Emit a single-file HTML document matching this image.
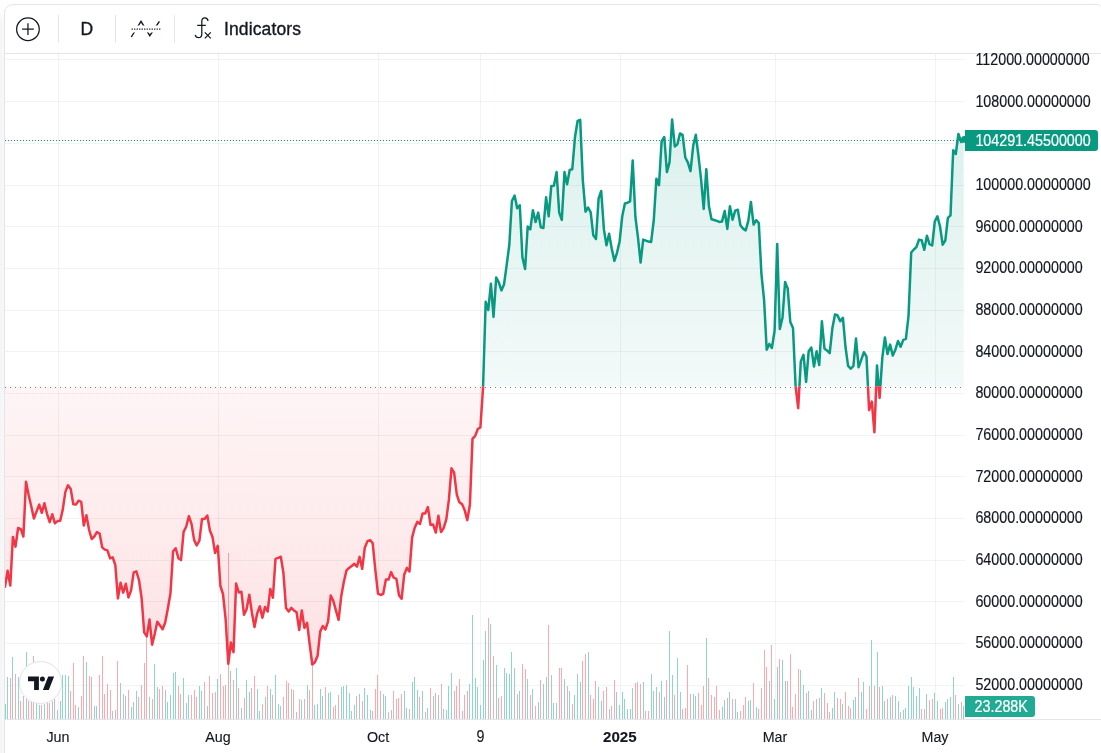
<!DOCTYPE html>
<html lang="en"><head><meta charset="utf-8"><title>Chart</title>
<style>
html,body{margin:0;padding:0;background:#fff;}
body{width:1101px;height:753px;overflow:hidden;position:relative;font-family:"Liberation Sans",Arial,sans-serif;color:#131722;}
.frame{position:absolute;left:4px;top:4px;width:1101px;height:800px;border:1px solid #e2e5ec;border-radius:9px;box-sizing:border-box;background:#fff;}
.lstrip{position:absolute;left:0;top:0;width:6px;height:753px;background:linear-gradient(to bottom,#fff 0,#fff 6px,rgba(255,255,255,0) 24px),linear-gradient(to right,#f5f5f6,#fafafa);}
.tbline{position:absolute;left:5px;top:53px;width:1100px;height:1px;background:#e2e5ec;}
.axline{position:absolute;left:5px;top:719px;width:1100px;height:1px;background:#e2e5ec;}
.sep{position:absolute;top:15px;width:1px;height:28px;background:#e2e5ec;}
.chart{position:absolute;left:0;top:0;}
.tb{position:absolute;left:0;top:0;}
.tbt{position:absolute;font-size:17.5px;line-height:20px;top:19px;white-space:nowrap;-webkit-text-stroke:0.35px #131722;letter-spacing:0.12px;}
.pl{position:absolute;left:975.4px;font-size:14.3px;-webkit-text-stroke:0.15px #131722;transform:scaleY(1.11);transform-origin:0 14.97px;line-height:20px;height:20px;white-space:nowrap;}
.tl{position:absolute;top:726.85px;width:60px;text-align:center;font-size:14.3px;-webkit-text-stroke:0.12px #131722;transform:scaleY(1.025);transform-origin:0 14.97px;line-height:20px;white-space:nowrap;}
.tag{position:absolute;left:965px;box-sizing:border-box;color:#fff;line-height:22px;height:21px;padding-left:10.4px;border-radius:0 3px 3px 0;white-space:nowrap;}
.t9{transform:scaleY(1.11);}
.tb2{font-weight:bold;font-size:15.1px;transform:none;top:727.2px;}
.tx{display:inline-block;font-size:14.3px;line-height:22px;-webkit-text-stroke:0.2px #fff;transform:scaleY(1.11);transform-origin:0 15.97px;}
.logo{position:absolute;left:19.4px;top:661.3px;width:42.7px;height:42.7px;border-radius:50%;background:#fff;border:1.6px solid #dfe2ea;box-sizing:border-box;}
</style></head><body>
<div class="lstrip"></div><div class="frame"></div>
<svg class="chart" width="1101" height="753" viewBox="0 0 1101 753">
<defs>
<linearGradient id="gt" gradientUnits="userSpaceOnUse" x1="0" y1="-278.8" x2="0" y2="386.2"><stop offset="0" stop-color="#089981" stop-opacity="0.28"/><stop offset="1" stop-color="#089981" stop-opacity="0.05"/></linearGradient>
<linearGradient id="gb" gradientUnits="userSpaceOnUse" x1="0" y1="386.2" x2="0" y2="1051.2"><stop offset="0" stop-color="#f23645" stop-opacity="0.05"/><stop offset="1" stop-color="#f23645" stop-opacity="0.28"/></linearGradient>
<clipPath id="ct"><rect x="5" y="54" width="960" height="332.2"/></clipPath>
<clipPath id="cb"><rect x="5" y="386.2" width="960" height="332.8"/></clipPath>
</defs>
<g fill="#2a2e39" fill-opacity="0.06" shape-rendering="crispEdges"><rect x="5" y="59" width="960" height="1"/><rect x="5" y="101" width="960" height="1"/><rect x="5" y="143" width="960" height="1"/><rect x="5" y="185" width="960" height="1"/><rect x="5" y="226" width="960" height="1"/><rect x="5" y="268" width="960" height="1"/><rect x="5" y="310" width="960" height="1"/><rect x="5" y="351" width="960" height="1"/><rect x="5" y="393" width="960" height="1"/><rect x="5" y="435" width="960" height="1"/><rect x="5" y="476" width="960" height="1"/><rect x="5" y="518" width="960" height="1"/><rect x="5" y="560" width="960" height="1"/><rect x="5" y="601" width="960" height="1"/><rect x="5" y="643" width="960" height="1"/><rect x="5" y="685" width="960" height="1"/><rect x="58" y="54" width="1" height="665"/><rect x="218" y="54" width="1" height="665"/><rect x="378" y="54" width="1" height="665"/><rect x="480" y="54" width="1" height="665"/><rect x="620" y="54" width="1" height="665"/><rect x="775" y="54" width="1" height="665"/><rect x="935" y="54" width="1" height="665"/></g>
<g shape-rendering="crispEdges"><path d="M5 719v-15h1v15zM7 719v-42h1v42zM12 719v-62h1v62zM18 719v-42h1v42zM26 719v-67h1v67zM36 719v-20h1v20zM39 719v-14h1v14zM44 719v-15h1v15zM52 719v-18h1v18zM57 719v-9h1v9zM60 719v-18h1v18zM62 719v-44h1v44zM65 719v-44h1v44zM68 719v-43h1v43zM78 719v-12h1v12zM86 719v-57h1v57zM94 719v-13h1v13zM96 719v-13h1v13zM112 719v-8h1v8zM120 719v-36h1v36zM125 719v-23h1v23zM131 719v-12h1v12zM133 719v-17h1v17zM136 719v-28h1v28zM149 719v-22h1v22zM154 719v-55h1v55zM157 719v-32h1v32zM165 719v-29h1v29zM167 719v-17h1v17zM170 719v-24h1v24zM173 719v-46h1v46zM175 719v-47h1v47zM183 719v-41h1v41zM186 719v-16h1v16zM188 719v-24h1v24zM199 719v-33h1v33zM201 719v-28h1v28zM207 719v-13h1v13zM217 719v-40h1v40zM230 719v-48h1v48zM236 719v-51h1v51zM241 719v-11h1v11zM246 719v-39h1v39zM249 719v-27h1v27zM257 719v-30h1v30zM259 719v-8h1v8zM265 719v-22h1v22zM270 719v-30h1v30zM275 719v-44h1v44zM278 719v-15h1v15zM280 719v-13h1v13zM291 719v-30h1v30zM301 719v-19h1v19zM307 719v-34h1v34zM314 719v-14h1v14zM317 719v-15h1v15zM320 719v-30h1v30zM322 719v-23h1v23zM328 719v-26h1v26zM330 719v-27h1v27zM341 719v-32h1v32zM343 719v-33h1v33zM346 719v-34h1v34zM349 719v-26h1v26zM351 719v-8h1v8zM354 719v-14h1v14zM359 719v-25h1v25zM364 719v-31h1v31zM367 719v-24h1v24zM370 719v-9h1v9zM383 719v-25h1v25zM385 719v-23h1v23zM391 719v-9h1v9zM404 719v-28h1v28zM406 719v-11h1v11zM412 719v-37h1v37zM414 719v-42h1v42zM417 719v-29h1v29zM422 719v-28h1v28zM427 719v-11h1v11zM433 719v-23h1v23zM438 719v-24h1v24zM443 719v-10h1v10zM446 719v-9h1v9zM448 719v-33h1v33zM451 719v-46h1v46zM469 719v-35h1v35zM472 719v-104h1v104zM475 719v-41h1v41zM477 719v-32h1v32zM480 719v-14h1v14zM483 719v-59h1v59zM485 719v-88h1v88zM490 719v-95h1v95zM496 719v-54h1v54zM504 719v-51h1v51zM506 719v-46h1v46zM509 719v-45h1v45zM511 719v-67h1v67zM514 719v-51h1v51zM519 719v-28h1v28zM527 719v-40h1v40zM532 719v-30h1v30zM538 719v-17h1v17zM543 719v-35h1v35zM546 719v-42h1v42zM551 719v-44h1v44zM553 719v-16h1v16zM556 719v-16h1v16zM564 719v-40h1v40zM569 719v-28h1v28zM574 719v-24h1v24zM577 719v-45h1v45zM580 719v-37h1v37zM588 719v-67h1v67zM598 719v-32h1v32zM601 719v-18h1v18zM609 719v-10h1v10zM616 719v-27h1v27zM619 719v-14h1v14zM622 719v-27h1v27zM624 719v-20h1v20zM627 719v-10h1v10zM630 719v-10h1v10zM632 719v-31h1v31zM643 719v-37h1v37zM651 719v-45h1v45zM653 719v-28h1v28zM656 719v-32h1v32zM661 719v-38h1v38zM664 719v-22h1v22zM669 719v-88h1v88zM672 719v-44h1v44zM677 719v-61h1v61zM680 719v-27h1v27zM693 719v-25h1v25zM695 719v-23h1v23zM706 719v-81h1v81zM722 719v-12h1v12zM724 719v-19h1v19zM729 719v-27h1v27zM735 719v-20h1v20zM737 719v-7h1v7zM748 719v-18h1v18zM750 719v-19h1v19zM756 719v-12h1v12zM769 719v-38h1v38zM774 719v-20h1v20zM777 719v-52h1v52zM782 719v-59h1v59zM785 719v-38h1v38zM800 719v-49h1v49zM803 719v-34h1v34zM808 719v-28h1v28zM811 719v-9h1v9zM816 719v-20h1v20zM821 719v-31h1v31zM832 719v-11h1v11zM834 719v-27h1v27zM842 719v-15h1v15zM853 719v-19h1v19zM855 719v-22h1v22zM861 719v-27h1v27zM863 719v-37h1v37zM871 719v-79h1v79zM877 719v-67h1v67zM882 719v-33h1v33zM884 719v-18h1v18zM890 719v-22h1v22zM895 719v-23h1v23zM898 719v-18h1v18zM903 719v-9h1v9zM905 719v-11h1v11zM908 719v-33h1v33zM911 719v-42h1v42zM913 719v-32h1v32zM916 719v-23h1v23zM919 719v-31h1v31zM926 719v-25h1v25zM934 719v-26h1v26zM937 719v-18h1v18zM945 719v-17h1v17zM947 719v-20h1v20zM950 719v-22h1v22zM953 719v-42h1v42zM958 719v-15h1v15zM963 719v-13h1v13z" fill="#90d5c9"/><path d="M10 719v-41h1v41zM15 719v-45h1v45zM20 719v-18h1v18zM23 719v-23h1v23zM28 719v-18h1v18zM31 719v-20h1v20zM33 719v-63h1v63zM41 719v-14h1v14zM47 719v-18h1v18zM49 719v-16h1v16zM54 719v-20h1v20zM70 719v-28h1v28zM73 719v-56h1v56zM75 719v-14h1v14zM81 719v-23h1v23zM83 719v-63h1v63zM89 719v-43h1v43zM91 719v-42h1v42zM99 719v-44h1v44zM102 719v-63h1v63zM104 719v-25h1v25zM107 719v-35h1v35zM110 719v-29h1v29zM115 719v-9h1v9zM117 719v-58h1v58zM123 719v-25h1v25zM128 719v-29h1v29zM138 719v-22h1v22zM141 719v-34h1v34zM144 719v-56h1v56zM146 719v-84h1v84zM152 719v-20h1v20zM159 719v-30h1v30zM162 719v-33h1v33zM178 719v-33h1v33zM180 719v-25h1v25zM191 719v-24h1v24zM194 719v-29h1v29zM196 719v-22h1v22zM204 719v-37h1v37zM209 719v-43h1v43zM212 719v-26h1v26zM215 719v-27h1v27zM220 719v-45h1v45zM223 719v-33h1v33zM225 719v-34h1v34zM228 719v-166h1v166zM233 719v-39h1v39zM238 719v-31h1v31zM244 719v-21h1v21zM251 719v-31h1v31zM254 719v-43h1v43zM262 719v-15h1v15zM267 719v-33h1v33zM272 719v-24h1v24zM283 719v-22h1v22zM286 719v-38h1v38zM288 719v-36h1v36zM293 719v-29h1v29zM296 719v-7h1v7zM299 719v-20h1v20zM304 719v-20h1v20zM309 719v-29h1v29zM312 719v-53h1v53zM325 719v-32h1v32zM333 719v-12h1v12zM335 719v-14h1v14zM338 719v-24h1v24zM356 719v-23h1v23zM362 719v-18h1v18zM372 719v-8h1v8zM375 719v-30h1v30zM377 719v-44h1v44zM380 719v-28h1v28zM388 719v-7h1v7zM393 719v-28h1v28zM396 719v-20h1v20zM398 719v-21h1v21zM401 719v-25h1v25zM409 719v-10h1v10zM419 719v-22h1v22zM425 719v-7h1v7zM430 719v-31h1v31zM435 719v-26h1v26zM441 719v-35h1v35zM454 719v-28h1v28zM456 719v-33h1v33zM459 719v-40h1v40zM462 719v-8h1v8zM464 719v-24h1v24zM467 719v-28h1v28zM488 719v-101h1v101zM493 719v-63h1v63zM498 719v-21h1v21zM501 719v-23h1v23zM517 719v-25h1v25zM522 719v-55h1v55zM525 719v-50h1v50zM530 719v-24h1v24zM535 719v-13h1v13zM540 719v-39h1v39zM548 719v-94h1v94zM559 719v-51h1v51zM561 719v-51h1v51zM567 719v-33h1v33zM572 719v-15h1v15zM582 719v-58h1v58zM585 719v-65h1v65zM590 719v-24h1v24zM593 719v-20h1v20zM595 719v-38h1v38zM603 719v-28h1v28zM606 719v-32h1v32zM611 719v-13h1v13zM614 719v-39h1v39zM635 719v-36h1v36zM637 719v-37h1v37zM640 719v-35h1v35zM645 719v-8h1v8zM648 719v-8h1v8zM659 719v-27h1v27zM666 719v-39h1v39zM674 719v-24h1v24zM682 719v-10h1v10zM685 719v-11h1v11zM687 719v-54h1v54zM690 719v-25h1v25zM698 719v-26h1v26zM701 719v-14h1v14zM703 719v-33h1v33zM708 719v-41h1v41zM711 719v-24h1v24zM714 719v-22h1v22zM716 719v-33h1v33zM719 719v-9h1v9zM727 719v-21h1v21zM732 719v-20h1v20zM740 719v-8h1v8zM743 719v-14h1v14zM745 719v-22h1v22zM753 719v-36h1v36zM758 719v-10h1v10zM761 719v-31h1v31zM764 719v-69h1v69zM766 719v-52h1v52zM771 719v-74h1v74zM779 719v-60h1v60zM787 719v-38h1v38zM790 719v-65h1v65zM792 719v-12h1v12zM795 719v-25h1v25zM798 719v-50h1v50zM806 719v-26h1v26zM813 719v-18h1v18zM819 719v-21h1v21zM824 719v-26h1v26zM827 719v-16h1v16zM829 719v-7h1v7zM837 719v-21h1v21zM840 719v-20h1v20zM845 719v-27h1v27zM848 719v-13h1v13zM850 719v-11h1v11zM858 719v-41h1v41zM866 719v-10h1v10zM869 719v-33h1v33zM874 719v-33h1v33zM879 719v-32h1v32zM887 719v-20h1v20zM892 719v-24h1v24zM900 719v-7h1v7zM921 719v-10h1v10zM924 719v-10h1v10zM929 719v-19h1v19zM932 719v-20h1v20zM940 719v-10h1v10zM942 719v-11h1v11zM955 719v-24h1v24zM961 719v-17h1v17z" fill="#fba8af"/></g>
<path d="M5 586.7 L7.6 570.7 L10.3 585.6 L12.9 536.9 L15.5 546.7 L18.1 528 L20.8 529.2 L23.4 536.5 L26 481.7 L28.6 494.8 L31.3 506.5 L33.9 518.6 L36.5 511.6 L39.2 504.6 L41.8 512.8 L44.4 503.3 L47 513.8 L49.7 522.2 L52.3 514.3 L54.9 523.3 L57.5 521.1 L60.2 520.8 L62.8 509.4 L65.4 491.9 L68 485.3 L70.7 489 L73.3 504.3 L75.9 504.6 L78.6 500.7 L81.2 501.8 L83.8 525.5 L86.4 515.3 L89.1 530 L91.7 539 L94.3 536.5 L96.9 532.1 L99.6 533.6 L102.2 547.4 L104.8 549.6 L107.4 550.4 L110.1 558.4 L112.7 557.4 L115.3 565 L117.9 598.4 L120.6 582.8 L123.2 592.6 L125.8 583.8 L128.5 597.4 L131.1 590.4 L133.7 572.4 L136.3 571.3 L139 580 L141.6 598 L144.2 632.4 L146.8 636.4 L149.5 619.6 L152.1 644.7 L154.7 634 L157.3 621.7 L160 625.4 L162.6 629.3 L165.2 622.5 L167.9 608.3 L170.5 593 L173.1 551.3 L175.7 548.3 L178.4 558.2 L181 560.1 L183.6 531.9 L186.2 526.8 L188.9 516.1 L191.5 523.9 L194.1 539.9 L196.7 545.5 L199.4 540.7 L202 519.1 L204.6 519.1 L207.3 515.6 L209.9 530.5 L212.5 537 L215.1 553.1 L217.8 545.8 L220.4 586 L223 594 L225.6 618.8 L228.3 663.8 L230.9 642.5 L233.5 652.1 L236.1 583.5 L238.8 592.5 L241.4 591.7 L244 614.8 L246.6 609.3 L249.3 594.7 L251.9 612.7 L254.5 626.9 L257.2 613.5 L259.8 606.4 L262.4 617.8 L265 607 L267.7 611.5 L270.3 589 L272.9 597.6 L275.5 558.9 L278.2 557.9 L280.8 556.7 L283.4 572.8 L286 607.9 L288.7 611.5 L291.3 607.9 L293.9 610.4 L296.6 612.3 L299.2 630.1 L301.8 610.4 L304.4 627.9 L307.1 622.8 L309.7 644.7 L312.3 664.5 L314.9 662.3 L317.6 655.7 L320.2 631.6 L322.8 626 L325.4 629.4 L328.1 621.4 L330.7 595.5 L333.3 600.9 L335.9 610.4 L338.6 619.9 L341.2 596.5 L343.8 582 L346.5 570.4 L349.1 567.9 L351.7 566 L354.3 563.8 L357 566.7 L359.6 556.9 L362.2 568.9 L364.8 547.7 L367.5 541.1 L370.1 540.1 L372.7 543.3 L375.3 569.6 L378 593.7 L380.6 595 L383.2 593.8 L385.9 579.6 L388.5 579.6 L391.1 572.1 L393.7 577.7 L396.4 578.9 L399 595.2 L401.6 598.8 L404.2 574.7 L406.9 567.9 L409.5 571.5 L412.1 537.6 L414.7 527.7 L417.4 521.9 L420 523.9 L422.6 513.5 L425.2 513.4 L427.9 507.1 L430.5 524.9 L433.1 524.5 L435.8 532.5 L438.4 515.7 L441 532.1 L443.6 528.2 L446.3 519.4 L448.9 499.7 L451.5 468.3 L454.1 472.6 L456.8 494.6 L459.4 502.3 L462 504.1 L464.6 509.9 L467.3 520.1 L469.9 504.8 L472.5 438.9 L475.2 435.9 L477.8 429 L480.4 427.4 L483 388.5 L485.7 301.8 L488.3 310 L490.9 283.7 L493.5 316.9 L496.2 277.6 L498.8 282.3 L501.4 290.4 L504 284.5 L506.7 264.8 L509.3 245 L511.9 201 L514.6 195.6 L517.2 208.3 L519.8 205.3 L522.4 257.2 L525.1 269 L527.7 226.5 L530.3 229.4 L532.9 210.2 L535.6 222.1 L538.2 212.6 L540.8 227.3 L543.4 228 L546.1 197.3 L548.7 216.3 L551.3 186 L553.9 185.7 L556.6 172.1 L559.2 212.6 L561.8 219.9 L564.5 172.1 L567.1 184.2 L569.7 169.9 L572.3 169.2 L575 137 L577.6 121 L580.2 119.9 L582.8 180.1 L585.5 211.7 L588.1 207.5 L590.7 212.4 L593.3 235.3 L596 238.9 L598.6 198.6 L601.2 191 L603.9 229.4 L606.5 245.2 L609.1 233.8 L611.7 248.4 L614.4 260.9 L617 252.8 L619.6 241.5 L622.2 216.5 L624.9 203.5 L627.5 202.7 L630.1 201.4 L632.7 160.4 L635.4 217 L638 237.7 L640.6 262.5 L643.2 239.6 L645.9 240.6 L648.5 241.6 L651.1 242.1 L653.8 220 L656.4 178.7 L659 185.2 L661.6 141.4 L664.3 137 L666.9 172.1 L669.5 162.6 L672.1 119.5 L674.8 146.5 L677.4 144.3 L680 133.4 L682.6 134.8 L685.3 157.5 L687.9 162.6 L690.5 171.1 L693.2 145.8 L695.8 134.8 L698.4 155.3 L701 178.7 L703.7 209 L706.3 169.2 L708.9 206 L711.5 219.2 L714.2 220 L716.8 220.9 L719.4 221.9 L722 221.6 L724.7 211 L727.3 228.9 L729.9 206.3 L732.6 219.7 L735.2 210.7 L737.8 209.7 L740.4 225.3 L743.1 228.6 L745.7 230.4 L748.3 220.9 L750.9 201.9 L753.6 224.6 L756.2 220.2 L758.8 223.1 L761.4 273.6 L764.1 300.1 L766.7 349.7 L769.3 343.9 L771.9 348 L774.6 330.7 L777.2 243.9 L779.8 329 L782.5 317.7 L785.1 281.9 L787.7 288.4 L790.3 322 L793 327.9 L795.6 386.2 L798.2 408.2 L800.8 361.4 L803.5 354.8 L806.1 381.9 L808.7 351.2 L811.3 347.5 L814 366.5 L816.6 351.2 L819.2 365.1 L821.9 321.3 L824.5 348.7 L827.1 350.5 L829.7 353.1 L832.4 327.9 L835 314.4 L837.6 315.5 L840.2 321.3 L842.9 317.7 L845.5 347 L848.1 365.8 L850.7 368.7 L853.4 366.2 L856 338.5 L858.6 367.3 L861.2 359.9 L863.9 352.2 L866.5 356.7 L869.1 410.1 L871.8 401.6 L874.4 432.3 L877 365.5 L879.6 397.9 L882.3 357.8 L884.9 337.5 L887.5 354.1 L890.1 344.6 L892.8 355.6 L895.4 349.7 L898 341 L900.6 346.8 L903.3 339.9 L905.9 338.8 L908.5 316.2 L911.2 252.5 L913.8 249.5 L916.4 247.1 L919 239.6 L921.7 240.3 L924.3 249.8 L926.9 235.7 L929.5 244.1 L932.2 245.5 L934.8 221.4 L937.4 216.4 L940 226.2 L942.7 244.7 L945.3 240.5 L947.9 217.8 L950.5 215.4 L953.2 150.3 L955.8 154 L958.4 133.9 L961.1 141.9 L963.7 139.9 L963.7 386.2 L5 386.2 Z" fill="url(#gt)" clip-path="url(#ct)"/>
<path d="M5 586.7 L7.6 570.7 L10.3 585.6 L12.9 536.9 L15.5 546.7 L18.1 528 L20.8 529.2 L23.4 536.5 L26 481.7 L28.6 494.8 L31.3 506.5 L33.9 518.6 L36.5 511.6 L39.2 504.6 L41.8 512.8 L44.4 503.3 L47 513.8 L49.7 522.2 L52.3 514.3 L54.9 523.3 L57.5 521.1 L60.2 520.8 L62.8 509.4 L65.4 491.9 L68 485.3 L70.7 489 L73.3 504.3 L75.9 504.6 L78.6 500.7 L81.2 501.8 L83.8 525.5 L86.4 515.3 L89.1 530 L91.7 539 L94.3 536.5 L96.9 532.1 L99.6 533.6 L102.2 547.4 L104.8 549.6 L107.4 550.4 L110.1 558.4 L112.7 557.4 L115.3 565 L117.9 598.4 L120.6 582.8 L123.2 592.6 L125.8 583.8 L128.5 597.4 L131.1 590.4 L133.7 572.4 L136.3 571.3 L139 580 L141.6 598 L144.2 632.4 L146.8 636.4 L149.5 619.6 L152.1 644.7 L154.7 634 L157.3 621.7 L160 625.4 L162.6 629.3 L165.2 622.5 L167.9 608.3 L170.5 593 L173.1 551.3 L175.7 548.3 L178.4 558.2 L181 560.1 L183.6 531.9 L186.2 526.8 L188.9 516.1 L191.5 523.9 L194.1 539.9 L196.7 545.5 L199.4 540.7 L202 519.1 L204.6 519.1 L207.3 515.6 L209.9 530.5 L212.5 537 L215.1 553.1 L217.8 545.8 L220.4 586 L223 594 L225.6 618.8 L228.3 663.8 L230.9 642.5 L233.5 652.1 L236.1 583.5 L238.8 592.5 L241.4 591.7 L244 614.8 L246.6 609.3 L249.3 594.7 L251.9 612.7 L254.5 626.9 L257.2 613.5 L259.8 606.4 L262.4 617.8 L265 607 L267.7 611.5 L270.3 589 L272.9 597.6 L275.5 558.9 L278.2 557.9 L280.8 556.7 L283.4 572.8 L286 607.9 L288.7 611.5 L291.3 607.9 L293.9 610.4 L296.6 612.3 L299.2 630.1 L301.8 610.4 L304.4 627.9 L307.1 622.8 L309.7 644.7 L312.3 664.5 L314.9 662.3 L317.6 655.7 L320.2 631.6 L322.8 626 L325.4 629.4 L328.1 621.4 L330.7 595.5 L333.3 600.9 L335.9 610.4 L338.6 619.9 L341.2 596.5 L343.8 582 L346.5 570.4 L349.1 567.9 L351.7 566 L354.3 563.8 L357 566.7 L359.6 556.9 L362.2 568.9 L364.8 547.7 L367.5 541.1 L370.1 540.1 L372.7 543.3 L375.3 569.6 L378 593.7 L380.6 595 L383.2 593.8 L385.9 579.6 L388.5 579.6 L391.1 572.1 L393.7 577.7 L396.4 578.9 L399 595.2 L401.6 598.8 L404.2 574.7 L406.9 567.9 L409.5 571.5 L412.1 537.6 L414.7 527.7 L417.4 521.9 L420 523.9 L422.6 513.5 L425.2 513.4 L427.9 507.1 L430.5 524.9 L433.1 524.5 L435.8 532.5 L438.4 515.7 L441 532.1 L443.6 528.2 L446.3 519.4 L448.9 499.7 L451.5 468.3 L454.1 472.6 L456.8 494.6 L459.4 502.3 L462 504.1 L464.6 509.9 L467.3 520.1 L469.9 504.8 L472.5 438.9 L475.2 435.9 L477.8 429 L480.4 427.4 L483 388.5 L485.7 301.8 L488.3 310 L490.9 283.7 L493.5 316.9 L496.2 277.6 L498.8 282.3 L501.4 290.4 L504 284.5 L506.7 264.8 L509.3 245 L511.9 201 L514.6 195.6 L517.2 208.3 L519.8 205.3 L522.4 257.2 L525.1 269 L527.7 226.5 L530.3 229.4 L532.9 210.2 L535.6 222.1 L538.2 212.6 L540.8 227.3 L543.4 228 L546.1 197.3 L548.7 216.3 L551.3 186 L553.9 185.7 L556.6 172.1 L559.2 212.6 L561.8 219.9 L564.5 172.1 L567.1 184.2 L569.7 169.9 L572.3 169.2 L575 137 L577.6 121 L580.2 119.9 L582.8 180.1 L585.5 211.7 L588.1 207.5 L590.7 212.4 L593.3 235.3 L596 238.9 L598.6 198.6 L601.2 191 L603.9 229.4 L606.5 245.2 L609.1 233.8 L611.7 248.4 L614.4 260.9 L617 252.8 L619.6 241.5 L622.2 216.5 L624.9 203.5 L627.5 202.7 L630.1 201.4 L632.7 160.4 L635.4 217 L638 237.7 L640.6 262.5 L643.2 239.6 L645.9 240.6 L648.5 241.6 L651.1 242.1 L653.8 220 L656.4 178.7 L659 185.2 L661.6 141.4 L664.3 137 L666.9 172.1 L669.5 162.6 L672.1 119.5 L674.8 146.5 L677.4 144.3 L680 133.4 L682.6 134.8 L685.3 157.5 L687.9 162.6 L690.5 171.1 L693.2 145.8 L695.8 134.8 L698.4 155.3 L701 178.7 L703.7 209 L706.3 169.2 L708.9 206 L711.5 219.2 L714.2 220 L716.8 220.9 L719.4 221.9 L722 221.6 L724.7 211 L727.3 228.9 L729.9 206.3 L732.6 219.7 L735.2 210.7 L737.8 209.7 L740.4 225.3 L743.1 228.6 L745.7 230.4 L748.3 220.9 L750.9 201.9 L753.6 224.6 L756.2 220.2 L758.8 223.1 L761.4 273.6 L764.1 300.1 L766.7 349.7 L769.3 343.9 L771.9 348 L774.6 330.7 L777.2 243.9 L779.8 329 L782.5 317.7 L785.1 281.9 L787.7 288.4 L790.3 322 L793 327.9 L795.6 386.2 L798.2 408.2 L800.8 361.4 L803.5 354.8 L806.1 381.9 L808.7 351.2 L811.3 347.5 L814 366.5 L816.6 351.2 L819.2 365.1 L821.9 321.3 L824.5 348.7 L827.1 350.5 L829.7 353.1 L832.4 327.9 L835 314.4 L837.6 315.5 L840.2 321.3 L842.9 317.7 L845.5 347 L848.1 365.8 L850.7 368.7 L853.4 366.2 L856 338.5 L858.6 367.3 L861.2 359.9 L863.9 352.2 L866.5 356.7 L869.1 410.1 L871.8 401.6 L874.4 432.3 L877 365.5 L879.6 397.9 L882.3 357.8 L884.9 337.5 L887.5 354.1 L890.1 344.6 L892.8 355.6 L895.4 349.7 L898 341 L900.6 346.8 L903.3 339.9 L905.9 338.8 L908.5 316.2 L911.2 252.5 L913.8 249.5 L916.4 247.1 L919 239.6 L921.7 240.3 L924.3 249.8 L926.9 235.7 L929.5 244.1 L932.2 245.5 L934.8 221.4 L937.4 216.4 L940 226.2 L942.7 244.7 L945.3 240.5 L947.9 217.8 L950.5 215.4 L953.2 150.3 L955.8 154 L958.4 133.9 L961.1 141.9 L963.7 139.9 L963.7 386.2 L5 386.2 Z" fill="url(#gb)" clip-path="url(#cb)"/>
<path d="M5 387.5H965" stroke="#787b86" stroke-width="1" stroke-dasharray="1 4" fill="none"/>
<path d="M5 140.5H965" stroke="#089981" stroke-width="1" stroke-dasharray="1 2" fill="none"/>
<g fill="none" stroke-width="2.5" stroke-linejoin="round" stroke-linecap="round">
<path d="M5 586.7 L7.6 570.7 L10.3 585.6 L12.9 536.9 L15.5 546.7 L18.1 528 L20.8 529.2 L23.4 536.5 L26 481.7 L28.6 494.8 L31.3 506.5 L33.9 518.6 L36.5 511.6 L39.2 504.6 L41.8 512.8 L44.4 503.3 L47 513.8 L49.7 522.2 L52.3 514.3 L54.9 523.3 L57.5 521.1 L60.2 520.8 L62.8 509.4 L65.4 491.9 L68 485.3 L70.7 489 L73.3 504.3 L75.9 504.6 L78.6 500.7 L81.2 501.8 L83.8 525.5 L86.4 515.3 L89.1 530 L91.7 539 L94.3 536.5 L96.9 532.1 L99.6 533.6 L102.2 547.4 L104.8 549.6 L107.4 550.4 L110.1 558.4 L112.7 557.4 L115.3 565 L117.9 598.4 L120.6 582.8 L123.2 592.6 L125.8 583.8 L128.5 597.4 L131.1 590.4 L133.7 572.4 L136.3 571.3 L139 580 L141.6 598 L144.2 632.4 L146.8 636.4 L149.5 619.6 L152.1 644.7 L154.7 634 L157.3 621.7 L160 625.4 L162.6 629.3 L165.2 622.5 L167.9 608.3 L170.5 593 L173.1 551.3 L175.7 548.3 L178.4 558.2 L181 560.1 L183.6 531.9 L186.2 526.8 L188.9 516.1 L191.5 523.9 L194.1 539.9 L196.7 545.5 L199.4 540.7 L202 519.1 L204.6 519.1 L207.3 515.6 L209.9 530.5 L212.5 537 L215.1 553.1 L217.8 545.8 L220.4 586 L223 594 L225.6 618.8 L228.3 663.8 L230.9 642.5 L233.5 652.1 L236.1 583.5 L238.8 592.5 L241.4 591.7 L244 614.8 L246.6 609.3 L249.3 594.7 L251.9 612.7 L254.5 626.9 L257.2 613.5 L259.8 606.4 L262.4 617.8 L265 607 L267.7 611.5 L270.3 589 L272.9 597.6 L275.5 558.9 L278.2 557.9 L280.8 556.7 L283.4 572.8 L286 607.9 L288.7 611.5 L291.3 607.9 L293.9 610.4 L296.6 612.3 L299.2 630.1 L301.8 610.4 L304.4 627.9 L307.1 622.8 L309.7 644.7 L312.3 664.5 L314.9 662.3 L317.6 655.7 L320.2 631.6 L322.8 626 L325.4 629.4 L328.1 621.4 L330.7 595.5 L333.3 600.9 L335.9 610.4 L338.6 619.9 L341.2 596.5 L343.8 582 L346.5 570.4 L349.1 567.9 L351.7 566 L354.3 563.8 L357 566.7 L359.6 556.9 L362.2 568.9 L364.8 547.7 L367.5 541.1 L370.1 540.1 L372.7 543.3 L375.3 569.6 L378 593.7 L380.6 595 L383.2 593.8 L385.9 579.6 L388.5 579.6 L391.1 572.1 L393.7 577.7 L396.4 578.9 L399 595.2 L401.6 598.8 L404.2 574.7 L406.9 567.9 L409.5 571.5 L412.1 537.6 L414.7 527.7 L417.4 521.9 L420 523.9 L422.6 513.5 L425.2 513.4 L427.9 507.1 L430.5 524.9 L433.1 524.5 L435.8 532.5 L438.4 515.7 L441 532.1 L443.6 528.2 L446.3 519.4 L448.9 499.7 L451.5 468.3 L454.1 472.6 L456.8 494.6 L459.4 502.3 L462 504.1 L464.6 509.9 L467.3 520.1 L469.9 504.8 L472.5 438.9 L475.2 435.9 L477.8 429 L480.4 427.4 L483 388.5 L485.7 301.8 L488.3 310 L490.9 283.7 L493.5 316.9 L496.2 277.6 L498.8 282.3 L501.4 290.4 L504 284.5 L506.7 264.8 L509.3 245 L511.9 201 L514.6 195.6 L517.2 208.3 L519.8 205.3 L522.4 257.2 L525.1 269 L527.7 226.5 L530.3 229.4 L532.9 210.2 L535.6 222.1 L538.2 212.6 L540.8 227.3 L543.4 228 L546.1 197.3 L548.7 216.3 L551.3 186 L553.9 185.7 L556.6 172.1 L559.2 212.6 L561.8 219.9 L564.5 172.1 L567.1 184.2 L569.7 169.9 L572.3 169.2 L575 137 L577.6 121 L580.2 119.9 L582.8 180.1 L585.5 211.7 L588.1 207.5 L590.7 212.4 L593.3 235.3 L596 238.9 L598.6 198.6 L601.2 191 L603.9 229.4 L606.5 245.2 L609.1 233.8 L611.7 248.4 L614.4 260.9 L617 252.8 L619.6 241.5 L622.2 216.5 L624.9 203.5 L627.5 202.7 L630.1 201.4 L632.7 160.4 L635.4 217 L638 237.7 L640.6 262.5 L643.2 239.6 L645.9 240.6 L648.5 241.6 L651.1 242.1 L653.8 220 L656.4 178.7 L659 185.2 L661.6 141.4 L664.3 137 L666.9 172.1 L669.5 162.6 L672.1 119.5 L674.8 146.5 L677.4 144.3 L680 133.4 L682.6 134.8 L685.3 157.5 L687.9 162.6 L690.5 171.1 L693.2 145.8 L695.8 134.8 L698.4 155.3 L701 178.7 L703.7 209 L706.3 169.2 L708.9 206 L711.5 219.2 L714.2 220 L716.8 220.9 L719.4 221.9 L722 221.6 L724.7 211 L727.3 228.9 L729.9 206.3 L732.6 219.7 L735.2 210.7 L737.8 209.7 L740.4 225.3 L743.1 228.6 L745.7 230.4 L748.3 220.9 L750.9 201.9 L753.6 224.6 L756.2 220.2 L758.8 223.1 L761.4 273.6 L764.1 300.1 L766.7 349.7 L769.3 343.9 L771.9 348 L774.6 330.7 L777.2 243.9 L779.8 329 L782.5 317.7 L785.1 281.9 L787.7 288.4 L790.3 322 L793 327.9 L795.6 386.2 L798.2 408.2 L800.8 361.4 L803.5 354.8 L806.1 381.9 L808.7 351.2 L811.3 347.5 L814 366.5 L816.6 351.2 L819.2 365.1 L821.9 321.3 L824.5 348.7 L827.1 350.5 L829.7 353.1 L832.4 327.9 L835 314.4 L837.6 315.5 L840.2 321.3 L842.9 317.7 L845.5 347 L848.1 365.8 L850.7 368.7 L853.4 366.2 L856 338.5 L858.6 367.3 L861.2 359.9 L863.9 352.2 L866.5 356.7 L869.1 410.1 L871.8 401.6 L874.4 432.3 L877 365.5 L879.6 397.9 L882.3 357.8 L884.9 337.5 L887.5 354.1 L890.1 344.6 L892.8 355.6 L895.4 349.7 L898 341 L900.6 346.8 L903.3 339.9 L905.9 338.8 L908.5 316.2 L911.2 252.5 L913.8 249.5 L916.4 247.1 L919 239.6 L921.7 240.3 L924.3 249.8 L926.9 235.7 L929.5 244.1 L932.2 245.5 L934.8 221.4 L937.4 216.4 L940 226.2 L942.7 244.7 L945.3 240.5 L947.9 217.8 L950.5 215.4 L953.2 150.3 L955.8 154 L958.4 133.9 L961.1 141.9 L963.7 139.9" stroke="#089981" clip-path="url(#ct)"/>
<path d="M5 586.7 L7.6 570.7 L10.3 585.6 L12.9 536.9 L15.5 546.7 L18.1 528 L20.8 529.2 L23.4 536.5 L26 481.7 L28.6 494.8 L31.3 506.5 L33.9 518.6 L36.5 511.6 L39.2 504.6 L41.8 512.8 L44.4 503.3 L47 513.8 L49.7 522.2 L52.3 514.3 L54.9 523.3 L57.5 521.1 L60.2 520.8 L62.8 509.4 L65.4 491.9 L68 485.3 L70.7 489 L73.3 504.3 L75.9 504.6 L78.6 500.7 L81.2 501.8 L83.8 525.5 L86.4 515.3 L89.1 530 L91.7 539 L94.3 536.5 L96.9 532.1 L99.6 533.6 L102.2 547.4 L104.8 549.6 L107.4 550.4 L110.1 558.4 L112.7 557.4 L115.3 565 L117.9 598.4 L120.6 582.8 L123.2 592.6 L125.8 583.8 L128.5 597.4 L131.1 590.4 L133.7 572.4 L136.3 571.3 L139 580 L141.6 598 L144.2 632.4 L146.8 636.4 L149.5 619.6 L152.1 644.7 L154.7 634 L157.3 621.7 L160 625.4 L162.6 629.3 L165.2 622.5 L167.9 608.3 L170.5 593 L173.1 551.3 L175.7 548.3 L178.4 558.2 L181 560.1 L183.6 531.9 L186.2 526.8 L188.9 516.1 L191.5 523.9 L194.1 539.9 L196.7 545.5 L199.4 540.7 L202 519.1 L204.6 519.1 L207.3 515.6 L209.9 530.5 L212.5 537 L215.1 553.1 L217.8 545.8 L220.4 586 L223 594 L225.6 618.8 L228.3 663.8 L230.9 642.5 L233.5 652.1 L236.1 583.5 L238.8 592.5 L241.4 591.7 L244 614.8 L246.6 609.3 L249.3 594.7 L251.9 612.7 L254.5 626.9 L257.2 613.5 L259.8 606.4 L262.4 617.8 L265 607 L267.7 611.5 L270.3 589 L272.9 597.6 L275.5 558.9 L278.2 557.9 L280.8 556.7 L283.4 572.8 L286 607.9 L288.7 611.5 L291.3 607.9 L293.9 610.4 L296.6 612.3 L299.2 630.1 L301.8 610.4 L304.4 627.9 L307.1 622.8 L309.7 644.7 L312.3 664.5 L314.9 662.3 L317.6 655.7 L320.2 631.6 L322.8 626 L325.4 629.4 L328.1 621.4 L330.7 595.5 L333.3 600.9 L335.9 610.4 L338.6 619.9 L341.2 596.5 L343.8 582 L346.5 570.4 L349.1 567.9 L351.7 566 L354.3 563.8 L357 566.7 L359.6 556.9 L362.2 568.9 L364.8 547.7 L367.5 541.1 L370.1 540.1 L372.7 543.3 L375.3 569.6 L378 593.7 L380.6 595 L383.2 593.8 L385.9 579.6 L388.5 579.6 L391.1 572.1 L393.7 577.7 L396.4 578.9 L399 595.2 L401.6 598.8 L404.2 574.7 L406.9 567.9 L409.5 571.5 L412.1 537.6 L414.7 527.7 L417.4 521.9 L420 523.9 L422.6 513.5 L425.2 513.4 L427.9 507.1 L430.5 524.9 L433.1 524.5 L435.8 532.5 L438.4 515.7 L441 532.1 L443.6 528.2 L446.3 519.4 L448.9 499.7 L451.5 468.3 L454.1 472.6 L456.8 494.6 L459.4 502.3 L462 504.1 L464.6 509.9 L467.3 520.1 L469.9 504.8 L472.5 438.9 L475.2 435.9 L477.8 429 L480.4 427.4 L483 388.5 L485.7 301.8 L488.3 310 L490.9 283.7 L493.5 316.9 L496.2 277.6 L498.8 282.3 L501.4 290.4 L504 284.5 L506.7 264.8 L509.3 245 L511.9 201 L514.6 195.6 L517.2 208.3 L519.8 205.3 L522.4 257.2 L525.1 269 L527.7 226.5 L530.3 229.4 L532.9 210.2 L535.6 222.1 L538.2 212.6 L540.8 227.3 L543.4 228 L546.1 197.3 L548.7 216.3 L551.3 186 L553.9 185.7 L556.6 172.1 L559.2 212.6 L561.8 219.9 L564.5 172.1 L567.1 184.2 L569.7 169.9 L572.3 169.2 L575 137 L577.6 121 L580.2 119.9 L582.8 180.1 L585.5 211.7 L588.1 207.5 L590.7 212.4 L593.3 235.3 L596 238.9 L598.6 198.6 L601.2 191 L603.9 229.4 L606.5 245.2 L609.1 233.8 L611.7 248.4 L614.4 260.9 L617 252.8 L619.6 241.5 L622.2 216.5 L624.9 203.5 L627.5 202.7 L630.1 201.4 L632.7 160.4 L635.4 217 L638 237.7 L640.6 262.5 L643.2 239.6 L645.9 240.6 L648.5 241.6 L651.1 242.1 L653.8 220 L656.4 178.7 L659 185.2 L661.6 141.4 L664.3 137 L666.9 172.1 L669.5 162.6 L672.1 119.5 L674.8 146.5 L677.4 144.3 L680 133.4 L682.6 134.8 L685.3 157.5 L687.9 162.6 L690.5 171.1 L693.2 145.8 L695.8 134.8 L698.4 155.3 L701 178.7 L703.7 209 L706.3 169.2 L708.9 206 L711.5 219.2 L714.2 220 L716.8 220.9 L719.4 221.9 L722 221.6 L724.7 211 L727.3 228.9 L729.9 206.3 L732.6 219.7 L735.2 210.7 L737.8 209.7 L740.4 225.3 L743.1 228.6 L745.7 230.4 L748.3 220.9 L750.9 201.9 L753.6 224.6 L756.2 220.2 L758.8 223.1 L761.4 273.6 L764.1 300.1 L766.7 349.7 L769.3 343.9 L771.9 348 L774.6 330.7 L777.2 243.9 L779.8 329 L782.5 317.7 L785.1 281.9 L787.7 288.4 L790.3 322 L793 327.9 L795.6 386.2 L798.2 408.2 L800.8 361.4 L803.5 354.8 L806.1 381.9 L808.7 351.2 L811.3 347.5 L814 366.5 L816.6 351.2 L819.2 365.1 L821.9 321.3 L824.5 348.7 L827.1 350.5 L829.7 353.1 L832.4 327.9 L835 314.4 L837.6 315.5 L840.2 321.3 L842.9 317.7 L845.5 347 L848.1 365.8 L850.7 368.7 L853.4 366.2 L856 338.5 L858.6 367.3 L861.2 359.9 L863.9 352.2 L866.5 356.7 L869.1 410.1 L871.8 401.6 L874.4 432.3 L877 365.5 L879.6 397.9 L882.3 357.8 L884.9 337.5 L887.5 354.1 L890.1 344.6 L892.8 355.6 L895.4 349.7 L898 341 L900.6 346.8 L903.3 339.9 L905.9 338.8 L908.5 316.2 L911.2 252.5 L913.8 249.5 L916.4 247.1 L919 239.6 L921.7 240.3 L924.3 249.8 L926.9 235.7 L929.5 244.1 L932.2 245.5 L934.8 221.4 L937.4 216.4 L940 226.2 L942.7 244.7 L945.3 240.5 L947.9 217.8 L950.5 215.4 L953.2 150.3 L955.8 154 L958.4 133.9 L961.1 141.9 L963.7 139.9" stroke="#f23645" clip-path="url(#cb)"/>
</g>
<circle cx="964.400" cy="139.400" r="3.400" fill="#089981"/>
</svg>
<div class="tbline"></div><div class="axline"></div>
<div class="sep" style="left:58px"></div><div class="sep" style="left:115px"></div><div class="sep" style="left:174px"></div>
<svg class="tb" width="330" height="54" viewBox="0 0 330 54" fill="none" stroke="#131722" stroke-width="1.25">
<circle cx="27.95" cy="29.2" r="11.3"/>
<path d="M22.1 29.200h11.700M27.950 23.300v11.800"/>
<defs><clipPath id="zz"><rect x="128" y="18" width="36" height="7.4"/><rect x="128" y="32.6" width="36" height="8"/></clipPath></defs>
<path d="M131.3 37L141 21.4l8.8 14.3 9.6-14.4" clip-path="url(#zz)" stroke-width="1.4"/>
<path d="M131.6 29.1H161.4" stroke-dasharray="1.25 1.25"/>
<path d="M208 21c-.2-2-1.400-3.100-3.100-3.100-1.900 0-3.100 1.300-3.100 3.600v12.500c0 2.400-1.300 3.700-3.300 3.700-1.700 0-2.900-1-3.300-2.800M197.200 25.400h8.600M204.800 32.400l6 6M210.800 32.400l-6 6"/>
</svg>
<div class="tbt" style="left:80.5px;font-weight:normal">D</div>
<div class="tbt" style="left:224px">Indicators</div>
<div class="pl" style="top:49.93px">112000.00000000</div><div class="pl" style="top:91.60px">108000.00000000</div><div class="pl" style="top:174.93px">100000.00000000</div><div class="pl" style="top:216.60px">96000.00000000</div><div class="pl" style="top:258.26px">92000.00000000</div><div class="pl" style="top:299.93px">88000.00000000</div><div class="pl" style="top:341.60px">84000.00000000</div><div class="pl" style="top:383.27px">80000.00000000</div><div class="pl" style="top:424.93px">76000.00000000</div><div class="pl" style="top:466.60px">72000.00000000</div><div class="pl" style="top:508.27px">68000.00000000</div><div class="pl" style="top:549.93px">64000.00000000</div><div class="pl" style="top:591.60px">60000.00000000</div><div class="pl" style="top:633.27px">56000.00000000</div><div class="pl" style="top:674.93px">52000.00000000</div>
<div class="tag" style="top:130px;width:133px;background:#089981"><span class="tx">104291.45500000</span></div>
<div class="tag" style="top:696px;width:70px;background:#22ab94;padding-left:9.6px"><span class="tx">23.288K</span></div>
<div class="tl" style="left:28px">Jun</div><div class="tl" style="left:188px">Aug</div><div class="tl" style="left:348px">Oct</div><div class="tl t9" style="left:450.5px">9</div><div class="tl tb2" style="left:589.8px">2025</div><div class="tl" style="left:745px">Mar</div><div class="tl" style="left:905px">May</div>
<div class="logo"></div>
<svg class="tb" style="left:0;top:650px" width="80" height="70" viewBox="0 650 80 70" fill="#131722"><path d="M28 676.400h10.900v13.500h-4.800v-8.600H28zM48.200 676.400h5.900L48.800 689.900h-5.900z"/><circle cx="42.400" cy="678.900" r="2.500"/></svg>
</body></html>
